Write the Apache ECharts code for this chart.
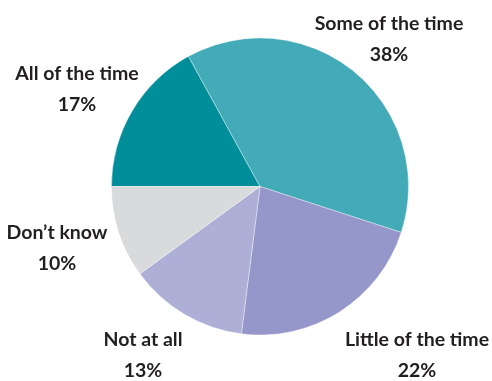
<!DOCTYPE html>
<html>
<head>
<meta charset="utf-8">
<script src="https://cdn.jsdelivr.net/npm/echarts@6/dist/echarts.min.js"></script>
<style>html,body{margin:0;padding:0;background:#fff}#c{width:492px;height:381px}</style>
</head>
<body>
<div id="c"></div>
<script>
const categories = ['All of the time', 'Some of the time', 'Little of the time', 'Not at all', 'Don\u2019t know'];
const values = [17, 38, 22, 13, 10];
const colors = ['#008E9A', '#43AAB7', '#9597CA', '#AEAFD7', '#D9DADC'];
// label anchor positions (layout only)
const labelAnchors = [[77, 89], [389, 39], [417, 355], [143, 355], [57, 248]];

const chart = echarts.init(document.getElementById('c'), null, {renderer: 'canvas'});
chart.setOption({
  animation: false,
  series: [{
    type: 'pie',
    center: [260, 186.5],
    radius: 148.5,
    startAngle: 180,
    clockwise: true,
    data: categories.map((n, i) => ({name: n, value: values[i], itemStyle: {color: colors[i]}})),
    itemStyle: {borderColor: 'rgba(255,255,255,0.6)', borderWidth: 0.6},
    emphasis: {disabled: true},
    label: {
      show: true,
      position: 'inside',
      formatter: p => p.name + '\n' + p.value + '%',
      fontFamily: 'Lato',
      fontWeight: 'bold',
      fontSize: 19.5,
      lineHeight: 31,
      color: '#231F20',
      align: 'center',
      overflow: 'none'
    },
    labelLine: {show: false},
    labelLayout: function (params) {
      const a = labelAnchors[params.dataIndex];
      return {x: a[0], y: a[1], align: 'center', verticalAlign: 'middle'};
    }
  }]
});
</script>
</body>
</html>
